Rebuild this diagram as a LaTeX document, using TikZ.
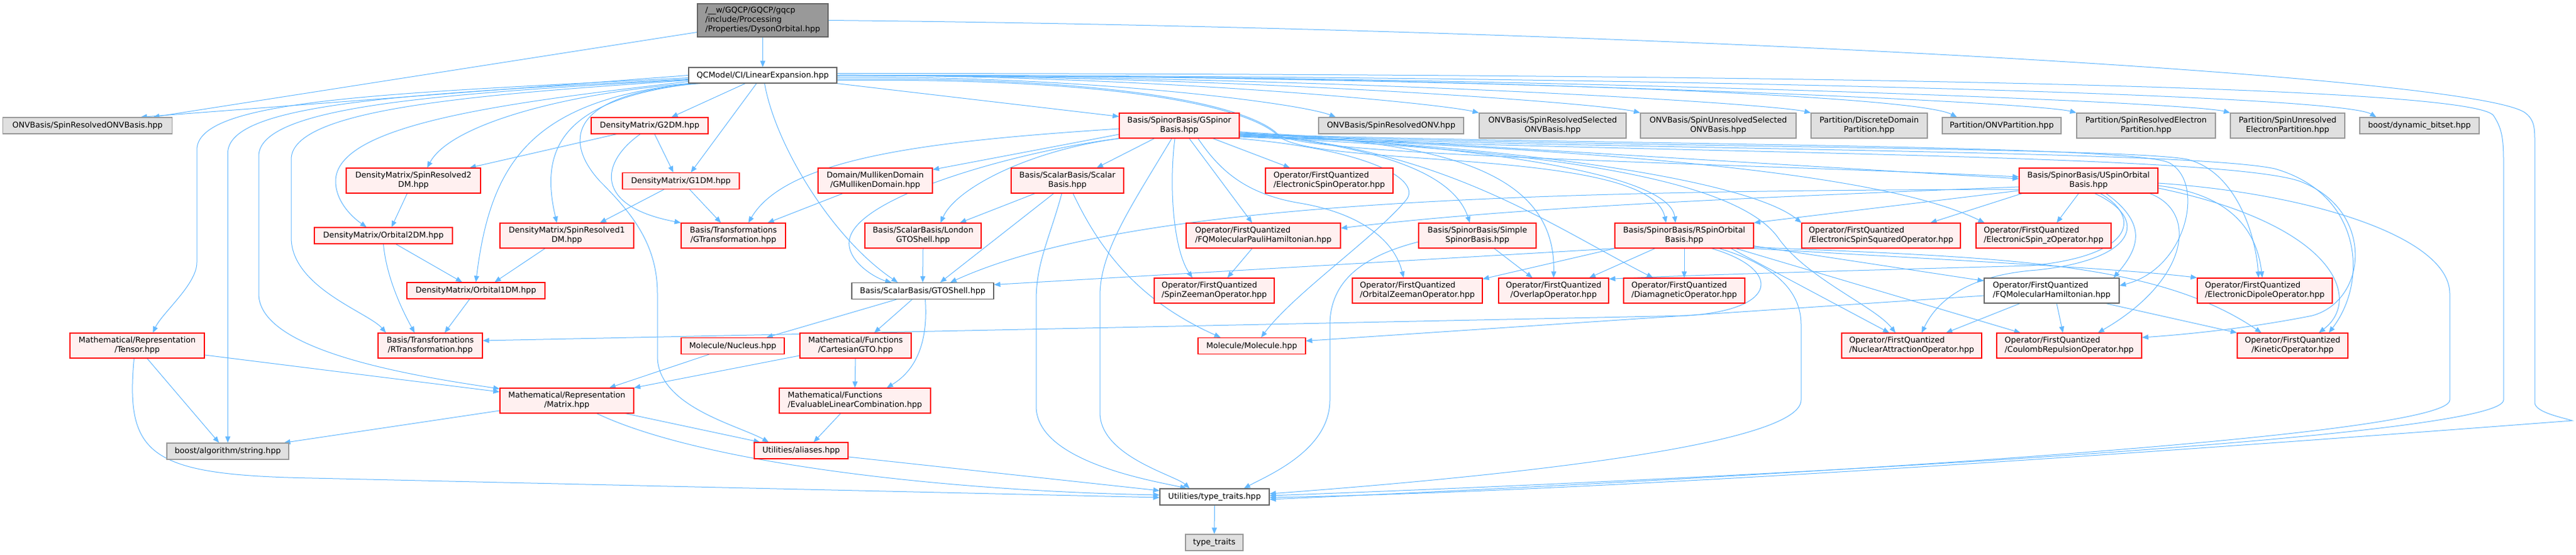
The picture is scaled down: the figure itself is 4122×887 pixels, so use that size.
\documentclass[tikz,border=0pt]{standalone}
\usepackage{fontspec}
\setmainfont{DejaVu Sans}
\usetikzlibrary{arrows.meta,backgrounds}
\definecolor{ecol}{HTML}{63B8FF}
\definecolor{rline}{HTML}{FF0000}
\definecolor{rfill}{HTML}{FFF0F0}
\definecolor{gline}{HTML}{999999}
\definecolor{gfill}{HTML}{E0E0E0}
\definecolor{wline}{HTML}{666666}
\definecolor{rootfill}{HTML}{999999}
\newcommand\nf{\fontsize{12.7bp}{15.3bp}\selectfont}
\newcommand\twoL[2]{\begin{tabular}{@{}l@{}}#1\\\multicolumn{1}{@{}c@{}}{#2}\end{tabular}}
\newcommand\threeL[3]{\begin{tabular}{@{}l@{}}#1\\#2\\\multicolumn{1}{@{}c@{}}{#3}\end{tabular}}
\tikzset{
 nbase/.style={draw, line width=1.2bp, inner sep=0pt, font=\nf, text=black},
 nred/.style={nbase, draw=rline, fill=rfill},
 ngray/.style={nbase, draw=gline, fill=gfill},
 nwhite/.style={nbase, draw=wline, fill=white},
 nroot/.style={nbase, draw=wline, fill=rootfill},
 wh/.style 2 args={minimum width=#1bp, minimum height=#2bp},
 dep/.style={draw=ecol, line width=1bp, -{Triangle[length=10bp,width=8bp]}},
}
\begin{document}
\begin{tikzpicture}[x=1bp,y=-1bp]
\useasboundingbox (0,0) rectangle (4122,887);
% ---------- nodes ----------
\node[nroot, wh={209}{53}] (dyson) at (1220.5,32.5) {\threeL{/\_\_w/GQCP/GQCP/gqcp}{/include/Processing}{/Properties/DysonOrbital.hpp}};
\node[nwhite, wh={237}{25}] (qcm) at (1220.5,120.5) {QCModel/CI/LinearExpansion.hpp};
\node[ngray, wh={271}{26}] (onvsr) at (140,201) {ONVBasis/SpinResolvedONVBasis.hpp};
\node[nred, wh={187}{26}] (g2dm) at (1039.5,201) {DensityMatrix/G2DM.hpp};
\node[nred, wh={192}{40}] (gspinor) at (1887,201) {\twoL{Basis/SpinorBasis/GSpinor}{Basis.hpp}};
\node[ngray, wh={232}{26}] (onvsronv) at (2226,201) {ONVBasis/SpinResolvedONV.hpp};
\node[ngray, wh={235}{40}] (onvsrsel) at (2484.5,201) {\twoL{ONVBasis/SpinResolvedSelected}{ONVBasis.hpp}};
\node[ngray, wh={249}{40}] (onvsusel) at (2749.5,201) {\twoL{ONVBasis/SpinUnresolvedSelected}{ONVBasis.hpp}};
\node[ngray, wh={186}{40}] (pdd) at (2991,201) {\twoL{Partition/DiscreteDomain}{Partition.hpp}};
\node[ngray, wh={190}{26}] (ponv) at (3203,201) {Partition/ONVPartition.hpp};
\node[ngray, wh={222}{40}] (psre) at (3434,201) {\twoL{Partition/SpinResolvedElectron}{Partition.hpp}};
\node[ngray, wh={183}{40}] (psue) at (3660.5,201) {\twoL{Partition/SpinUnresolved}{ElectronPartition.hpp}};
\node[ngray, wh={191}{26}] (bitset) at (3871.5,201) {boost/dynamic\_bitset.hpp};
\node[nred, wh={215}{40}] (sr2dm) at (661.5,289) {\twoL{DensityMatrix/SpinResolved2}{DM.hpp}};
\node[nred, wh={187}{26}] (g1dm) at (1089.5,289.5) {DensityMatrix/G1DM.hpp};
\node[nred, wh={183}{40}] (mull) at (1400.5,289) {\twoL{Domain/MullikenDomain}{/GMullikenDomain.hpp}};
\node[nred, wh={180}{40}] (scalarb) at (1708,289) {\twoL{Basis/ScalarBasis/Scalar}{Basis.hpp}};
\node[nred, wh={204}{40}] (espin) at (2127,289) {\twoL{Operator/FirstQuantized}{/ElectronicSpinOperator.hpp}};
\node[nred, wh={222}{40}] (uspin) at (3342,289) {\twoL{Basis/SpinorBasis/USpinOrbital}{Basis.hpp}};
\node[nred, wh={221}{26}] (orb2dm) at (613.5,377) {DensityMatrix/Orbital2DM.hpp};
\node[nred, wh={214}{40}] (sr1dm) at (907,377) {\twoL{DensityMatrix/SpinResolved1}{DM.hpp}};
\node[nred, wh={167}{40}] (gtrans) at (1173.5,377) {\twoL{Basis/Transformations}{/GTransformation.hpp}};
\node[nred, wh={186}{40}] (london) at (1477,377) {\twoL{Basis/ScalarBasis/London}{GTOShell.hpp}};
\node[nred, wh={247}{40}] (pauli) at (2021.5,377) {\twoL{Operator/FirstQuantized}{/FQMolecularPauliHamiltonian.hpp}};
\node[nred, wh={188}{40}] (simple) at (2364,377) {\twoL{Basis/SpinorBasis/Simple}{SpinorBasis.hpp}};
\node[nred, wh={222}{40}] (rspin) at (2695,377) {\twoL{Basis/SpinorBasis/RSpinOrbital}{Basis.hpp}};
\node[nred, wh={254}{40}] (esq) at (3010,377) {\twoL{Operator/FirstQuantized}{/ElectronicSpinSquaredOperator.hpp}};
\node[nred, wh={216}{40}] (esz) at (3270,377) {\twoL{Operator/FirstQuantized}{/ElectronicSpin\_zOperator.hpp}};
\node[nred, wh={221}{26}] (orb1dm) at (761.5,465) {DensityMatrix/Orbital1DM.hpp};
\node[nwhite, wh={227}{26}] (gtoshell) at (1476.5,465.5) {Basis/ScalarBasis/GTOShell.hpp};
\node[nred, wh={192}{40}] (szee) at (1943,465) {\twoL{Operator/FirstQuantized}{/SpinZeemanOperator.hpp}};
\node[nred, wh={208}{40}] (ozee) at (2268,465) {\twoL{Operator/FirstQuantized}{/OrbitalZeemanOperator.hpp}};
\node[nred, wh={176}{40}] (overlap) at (2486,465) {\twoL{Operator/FirstQuantized}{/OverlapOperator.hpp}};
\node[nred, wh={194}{40}] (diamag) at (2695,465) {\twoL{Operator/FirstQuantized}{/DiamagneticOperator.hpp}};
\node[nwhite, wh={216}{40}] (fqmh) at (3283,465) {\twoL{Operator/FirstQuantized}{/FQMolecularHamiltonian.hpp}};
\node[nred, wh={216}{40}] (dipole) at (3624,465) {\twoL{Operator/FirstQuantized}{/ElectronicDipoleOperator.hpp}};
\node[nred, wh={215}{40}] (tensor) at (219.5,553) {\twoL{Mathematical/Representation}{/Tensor.hpp}};
\node[nred, wh={167}{40}] (rtrans) at (688.5,553) {\twoL{Basis/Transformations}{/RTransformation.hpp}};
\node[nred, wh={165}{26}] (nucleus) at (1172.5,553.5) {Molecule/Nucleus.hpp};
\node[nred, wh={178}{40}] (cartgto) at (1369,553) {\twoL{Mathematical/Functions}{/CartesianGTO.hpp}};
\node[nred, wh={172}{26}] (molecule) at (2003,553.5) {Molecule/Molecule.hpp};
\node[nred, wh={224}{40}] (nucatt) at (3059,553) {\twoL{Operator/FirstQuantized}{/NuclearAttractionOperator.hpp}};
\node[nred, wh={232}{40}] (coulomb) at (3311,553) {\twoL{Operator/FirstQuantized}{/CoulombRepulsionOperator.hpp}};
\node[nred, wh={177}{40}] (kinetic) at (3668.5,553) {\twoL{Operator/FirstQuantized}{/KineticOperator.hpp}};
\node[nred, wh={214}{40}] (matrix) at (907,641) {\twoL{Mathematical/Representation}{/Matrix.hpp}};
\node[nred, wh={242}{40}] (evlc) at (1368,641) {\twoL{Mathematical/Functions}{/EvaluableLinearCombination.hpp}};
\node[ngray, wh={195}{26}] (balgo) at (364.5,722) {boost/algorithm/string.hpp};
\node[nred, wh={150}{26}] (aliases) at (1282,721) {Utilities/aliases.hpp};
\node[nwhite, wh={175}{26}] (tt) at (1943.5,795) {Utilities/type\_traits.hpp};
\node[ngray, wh={92}{26}] (typetraits) at (1943,868) {type\_traits};
% ---------- edges ----------
\begin{scope}[on background layer]
\fill[white] (0,0) rectangle (4122,887);
% dyson
\draw[dep] (dyson.south) -- (qcm.north);
\draw[dep] ([yshift=-19bp]dyson.west) -- ([xshift=105bp]onvsr.north);
\draw[dep] (dyson.east) .. controls (2600,45) and (3950,120) .. (4040,180) .. controls (4056,192) and (4056,205) .. (4056,230) -- (4056,645) .. controls (4058,660) and (4100,668) .. (4116,673) .. controls (3500,720) and (2600,785) .. ([yshift=-1bp]tt.east);
% qcm to the right
\draw[dep] (qcm.south east) -- ([yshift=-6bp]gspinor.north west);
\draw[dep] ([yshift=-3bp]qcm.east) .. controls (1740,121) and (2080,165) .. ([xshift=28bp]onvsronv.north west);
\draw[dep] (qcm.east) .. controls (1850,121) and (2300,165) .. (onvsrsel.north west);
\draw[dep] (qcm.east) .. controls (1980,121) and (2560,165) .. (onvsusel.north west);
\draw[dep] (qcm.east) .. controls (2120,121) and (2830,165) .. (pdd.north west);
\draw[dep] (qcm.east) .. controls (2235,120) and (3060,150) .. ([xshift=24bp]ponv.north west);
\draw[dep] (qcm.east) .. controls (2330,120) and (3255,163) .. (psre.north west);
\draw[dep] (qcm.east) .. controls (2450,120) and (3500,163) .. (psue.north west);
\draw[dep] (qcm.east) .. controls (2570,120) and (3740,150) .. ([xshift=27bp]bitset.north west);
\draw[dep] ([yshift=3bp]qcm.east) .. controls (3000,118) and (3960,140) .. (3990,185) .. controls (4003,205) and (4006,220) .. (4006,260) -- (4006,640) .. controls (4006,700) and (2800,765) .. ([yshift=2bp]tt.east);
\draw[dep] ([yshift=-6bp]qcm.east) .. controls (1850,122) and (2010,180) .. (2045,215) .. controls (2080,250) and (2800,262) .. ([yshift=6bp]uspin.west);
\draw[dep] ([yshift=-8bp]qcm.east) .. controls (1850,124) and (2010,182) .. (2045,217) .. controls (2100,270) and (2640,235) .. ([xshift=-29bp]rspin.north);
% qcm to the left
\draw[dep] (qcm.west) -- ([xshift=85bp]onvsr.north);
\draw[dep] ([yshift=-4bp]qcm.west) .. controls (600,150) and (315,160) .. (315,240) -- (315,420) .. controls (315,455) and (260,500) .. ([xshift=25bp]tensor.north);
\draw[dep] ([yshift=-6bp]qcm.west) .. controls (650,150) and (364.5,165) .. (364.5,245) -- (balgo.north);
\draw[dep] ([yshift=-7bp]qcm.west) .. controls (700,150) and (414,170) .. (414,250) -- (414,470) .. controls (414,560) and (650,600) .. ([yshift=19bp]matrix.west);
\draw[dep] ([yshift=-8bp]qcm.west) .. controls (750,152) and (466,175) .. (466,255) -- (466,380) .. controls (466,460) and (590,500) .. ([xshift=-71bp]rtrans.north);
\draw[dep] ([yshift=-10bp]qcm.west) .. controls (800,165) and (537,200) .. (537,290) .. controls (537,320) and (560,345) .. ([xshift=-27bp]orb2dm.north);
\draw[dep] (qcm.south west) .. controls (900,150) and (720,200) .. ([xshift=22bp]sr2dm.north);
\draw[dep] ([xshift=5bp]qcm.south west) .. controls (850,160) and (785,260) .. (orb1dm.north);
\draw[dep] ([xshift=10bp]qcm.south west) .. controls (890,160) and (865,245) .. ([xshift=-16bp]sr1dm.north);
\draw[dep] ([xshift=20bp]qcm.south west) .. controls (900,150) and (905,230) .. (960,290) .. controls (1010,340) and (1052,390) .. (1052,470) -- (1052,570) .. controls (1052,650) and (1180,680) .. ([xshift=-52bp]aliases.north);
% qcm down
\draw[dep] ([xshift=-28bp]qcm.south) -- ([xshift=35bp]g2dm.north);
\draw[dep] ([xshift=-10bp]qcm.south) -- ([xshift=16bp]g1dm.north);
\draw[dep] ([xshift=3bp]qcm.south) .. controls (1240,230) and (1330,380) .. ([xshift=-40bp]gtoshell.north);
% density matrices
\draw[dep] ([xshift=-53bp]g2dm.south) -- ([xshift=90bp]sr2dm.north);
\draw[dep] ([xshift=8bp]g2dm.south) -- ([xshift=-12bp]g1dm.north);
\draw[dep] ([xshift=-15bp]g2dm.south) .. controls (960,260) and (950,330) .. (gtrans.north west);
\draw[dep] ([xshift=-27bp]g1dm.south) -- ([xshift=53bp]sr1dm.north);
\draw[dep] ([xshift=14bp]g1dm.south) -- ([xshift=-20bp]gtrans.north);
\draw[dep] ([xshift=-52bp]mull.south) -- ([xshift=55bp]gtrans.north);
\draw[dep] ([xshift=-10bp]sr2dm.south) -- ([xshift=13bp]orb2dm.north);
\draw[dep] ([xshift=-35bp]sr1dm.south) -- ([xshift=30bp]orb1dm.north);
\draw[dep] (orb2dm.south) .. controls (618,440) and (640,490) .. ([xshift=-25bp]rtrans.north);
\draw[dep] ([xshift=20bp]orb2dm.south) -- ([xshift=-22bp]orb1dm.north);
\draw[dep] ([xshift=-10bp]orb1dm.south) -- ([xshift=23bp]rtrans.north);
% gspinor
\draw[dep] ([yshift=-5bp]gspinor.west) .. controls (1500,225) and (1260,250) .. ([xshift=24bp]gtrans.north);
\draw[dep] ([yshift=-14bp]gspinor.west) -- ([yshift=-3bp]mull.north east);
\draw[dep] (gspinor.south west) .. controls (1650,240) and (1530,300) .. ([xshift=28bp]london.north);
\draw[dep] (gspinor.south west) .. controls (1640,240) and (1380,310) .. (1360,380) .. controls (1350,415) and (1400,445) .. ([xshift=-50bp]gtoshell.north);
\draw[dep] ([xshift=-40bp]gspinor.south) -- ([xshift=47bp]scalarb.north);
\draw[dep] ([xshift=54bp]gspinor.south) -- ([xshift=-63bp]espin.north);
\draw[dep] ([xshift=16bp]gspinor.south) -- ([xshift=-18bp]pauli.north);
\draw[dep] ([xshift=-7bp]gspinor.south) .. controls (1870,300) and (1878,400) .. ([xshift=-35bp]szee.north);
\draw[dep] ([xshift=30bp]gspinor.south) .. controls (1950,270) and (1990,310) .. (2080,325) .. controls (2170,340) and (2230,380) .. ([xshift=-22bp]ozee.north);
\draw[dep] ([xshift=-2bp]gspinor.south east) .. controls (2200,240) and (2275,290) .. (2250,320) .. controls (2200,380) and (2070,470) .. ([xshift=15bp]molecule.north);
\draw[dep] ([xshift=-12bp]gspinor.south) .. controls (1810,330) and (1762,400) .. (1760,470) -- (1760,660) .. controls (1760,730) and (1880,760) .. ([xshift=-40bp]tt.north);
\draw[dep] ([yshift=-10bp]gspinor.east) .. controls (2150,230) and (2320,260) .. ([xshift=-12bp]simple.north);
\draw[dep] ([yshift=-12bp]gspinor.east) .. controls (2300,225) and (2490,270) .. (overlap.north);
\draw[dep] ([yshift=-14bp]gspinor.east) .. controls (2300,230) and (2480,360) .. ([xshift=-50bp]diamag.north);
\draw[dep] ([yshift=-10bp]gspinor.east) -- ([yshift=3bp]uspin.west);
\draw[dep] ([yshift=-12bp]gspinor.east) .. controls (2300,230) and (2670,270) .. ([xshift=-14bp]rspin.north);
\draw[dep] ([yshift=-15bp]gspinor.east) .. controls (2450,235) and (2800,290) .. (esq.north west);
\draw[dep] ([yshift=-16bp]gspinor.east) .. controls (2500,238) and (3000,270) .. ([xshift=14bp]esz.north west);
\draw[dep] ([yshift=-18bp]gspinor.east) .. controls (2500,240) and (2780,290) .. (2845,380) .. controls (2890,445) and (3000,490) .. ([xshift=-26bp]nucatt.north);
\draw[dep] ([yshift=-13bp]gspinor.east) .. controls (2500,232) and (3400,230) .. (3470,260) .. controls (3530,290) and (3500,430) .. ([yshift=8bp]fqmh.east);
\draw[dep] ([yshift=-14bp]gspinor.east) .. controls (2500,235) and (3400,235) .. (3500,255) .. controls (3580,275) and (3610,380) .. ([xshift=-10bp]dipole.north);
\draw[dep] ([yshift=-16bp]gspinor.east) .. controls (2600,240) and (3500,240) .. (3640,270) .. controls (3780,310) and (3790,450) .. ([xshift=58bp]kinetic.north);
\draw[dep] ([yshift=-17bp]gspinor.east) .. controls (2600,245) and (3550,245) .. (3680,290) .. controls (3800,335) and (3790,480) .. (3700,505) .. controls (3600,525) and (3500,535) .. ([yshift=13bp]coulomb.east);
% scalar basis, london, pauli, simple
\draw[dep] ([xshift=-52bp]scalarb.south) -- ([xshift=59bp]london.north);
\draw[dep] ([xshift=-22bp]scalarb.south) -- ([xshift=28bp]gtoshell.north);
\draw[dep] ([xshift=9bp]scalarb.south) .. controls (1760,400) and (1820,480) .. ([xshift=-50bp]molecule.north);
\draw[dep] ([xshift=-9bp]scalarb.south) .. controls (1680,380) and (1658,420) .. (1658,480) -- (1658,650) .. controls (1658,740) and (1850,770) .. ([xshift=-45bp]tt.north);
\draw[dep] (london.south) -- (gtoshell.north);
\draw[dep] ([xshift=-18bp]pauli.south) -- ([xshift=21bp]szee.north);
\draw[dep] ([xshift=27bp]simple.south) -- ([xshift=-34bp]overlap.north);
\draw[dep] ([yshift=-10bp]simple.west) .. controls (2180,410) and (2128,450) .. (2128,520) -- (2128,640) .. controls (2128,720) and (2030,760) .. ([xshift=47bp]tt.north);
% uspin
\draw[dep] ([yshift=-16bp]uspin.west) -- (rspin.north east);
\draw[dep] ([yshift=-10bp]uspin.west) .. controls (2700,320) and (2400,335) .. ([yshift=12bp]pauli.east);
\draw[dep] ([yshift=-14bp]uspin.west) .. controls (2400,305) and (1800,325) .. ([xshift=44bp]gtoshell.north);
\draw[dep] ([xshift=5bp]uspin.south west) -- ([xshift=79bp]esq.north);
\draw[dep] ([xshift=-16bp]uspin.south) -- ([xshift=21bp]esz.north);
\draw[dep] ([xshift=19bp]uspin.south) .. controls (3430,350) and (3410,410) .. (3250,425) .. controls (3000,432) and (2700,440) .. ([yshift=-2bp]overlap.north east);
\draw[dep] ([xshift=10bp]uspin.south) .. controls (3440,350) and (3420,415) .. (3260,432) .. controls (3150,440) and (3100,480) .. ([xshift=16bp]nucatt.north);
\draw[dep] ([xshift=28bp]uspin.south) .. controls (3440,360) and (3420,400) .. ([xshift=99bp]fqmh.north);
\draw[dep] ([xshift=98bp]uspin.south) .. controls (3520,340) and (3500,450) .. ([xshift=46bp]coulomb.north);
\draw[dep] ([yshift=-8bp]uspin.east) .. controls (3560,310) and (3610,360) .. ([xshift=-4bp]dipole.north);
\draw[dep] ([yshift=-12bp]uspin.east) .. controls (3740,360) and (3780,480) .. ([xshift=42bp]kinetic.north);
\draw[dep] ([yshift=-4bp]uspin.east) .. controls (3700,310) and (3920,380) .. (3920,470) -- (3920,640) .. controls (3920,700) and (2800,765) .. ([yshift=-4bp]tt.east);
% rspin
\draw[dep] ([xshift=44bp]rspin.south) .. controls (2850,430) and (2850,495) .. (2700,505) -- ([yshift=8bp]rtrans.east);
\draw[dep] ([xshift=-47bp]rspin.south) -- ([xshift=57bp]overlap.north);
\draw[dep] (rspin.south west) -- ([yshift=-2bp]ozee.north east);
\draw[dep] (rspin.south west) -- ([yshift=10bp]gtoshell.east);
\draw[dep] (rspin.south) -- (diamag.north);
\draw[dep] ([yshift=4bp]rspin.south east) -- ([yshift=-5bp]fqmh.north west);
\draw[dep] (rspin.south east) .. controls (3100,415) and (3400,430) .. (dipole.north west);
\draw[dep] ([yshift=2bp]rspin.south east) .. controls (3200,412) and (3450,418) .. ([xshift=-50bp]kinetic.north);
\draw[dep] ([xshift=75bp]rspin.south) -- ([xshift=-36bp]nucatt.north);
\draw[dep] ([xshift=83bp]rspin.south) -- ([xshift=-78bp]coulomb.north);
\draw[dep] ([xshift=56bp]rspin.south) .. controls (2860,430) and (2882,480) .. (2882,520) -- (2882,640) .. controls (2882,720) and (2300,770) .. ([yshift=5bp]tt.east);
% fqmh
\draw[dep] ([xshift=-51bp]fqmh.south) -- ([xshift=55bp]nucatt.north);
\draw[dep] ([xshift=8bp]fqmh.south) -- ([xshift=-10bp]coulomb.north);
\draw[dep] ([xshift=87bp]fqmh.south) -- (kinetic.north west);
\draw[dep] ([yshift=-8bp]fqmh.west) -- ([yshift=8bp]molecule.east);
% gtoshell and below
\draw[dep] ([xshift=-42bp]gtoshell.south) -- ([xshift=54bp]nucleus.north);
\draw[dep] ([xshift=-17bp]gtoshell.south) -- ([xshift=30bp]cartgto.north);
\draw[dep] ([xshift=4bp]gtoshell.south) .. controls (1485,540) and (1470,590) .. ([xshift=51bp]evlc.north);
\draw[dep] ([xshift=-38bp]nucleus.south) -- ([xshift=68bp]matrix.north);
\draw[dep] ([yshift=-16bp]cartgto.west) -- (matrix.north east);
\draw[dep] (cartgto.south) -- (evlc.north);
\draw[dep] ([xshift=-23bp]evlc.south) -- ([xshift=20bp]aliases.north);
% tensor, matrix
\draw[dep] ([yshift=-15bp]tensor.east) -- ([yshift=14bp]matrix.west);
\draw[dep] ([xshift=16bp]tensor.south) -- ([xshift=-14bp]balgo.north);
\draw[dep] ([xshift=-5bp]tensor.south) .. controls (200,730) and (240,760) .. (500,765) -- ([yshift=-1bp]tt.west);
\draw[dep] ([yshift=-16bp]matrix.west) -- ([xshift=90bp]balgo.north);
\draw[dep] ([xshift=94bp]matrix.south) -- ([xshift=-66bp]aliases.north);
\draw[dep] ([xshift=48bp]matrix.south) .. controls (1120,740) and (1500,785) .. ([yshift=3bp]tt.west);
\draw[dep] ([yshift=-10bp]aliases.east) -- ([yshift=10bp]tt.west);
\draw[dep] (tt.south) -- (typetraits.north);
\end{scope}
\end{tikzpicture}
\end{document}
